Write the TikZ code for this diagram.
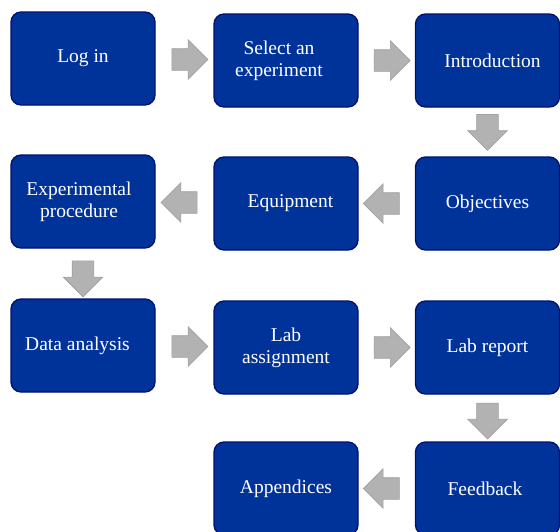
\documentclass[tikz,border=0pt]{standalone}
\usepackage{fontspec}
\setmainfont{Liberation Serif}
\usetikzlibrary{shapes.arrows,calc}
\definecolor{boxfill}{RGB}{0,51,153}
\definecolor{boxline}{RGB}{0,16,112}
\definecolor{arrowfill}{RGB}{178,178,178}
\definecolor{arrowline}{RGB}{160,160,160}
% invisible horizontal padding used to nudge a label inside its box
\newcommand\padx[1]{\rule{#1}{0pt}}
\tikzset{
  stepbox/.style={draw=boxline, line width=1.3pt, fill=boxfill, rounded corners=10pt,
    minimum width=144pt, minimum height=93pt, inner sep=2pt, align=center,
    text=white, font=\fontsize{19.5}{22}\selectfont},
  flow/.style={single arrow, draw=arrowline, line width=0.6pt, fill=arrowfill,
    minimum height=36pt, inner xsep=0pt, inner ysep=10.5pt,
    single arrow head extend=9pt, anchor=center}
}
\begin{document}
\begin{tikzpicture}[x=1pt,y=-1pt]
\useasboundingbox (0,0) rectangle (560,531);
\clip (0,0) rectangle (560,531);
% row 1
\node[stepbox] (login)  at (83,58.5)   {Log in};
\node[stepbox] (select) at (286,60.5)  {Select an\padx{14pt}\\experiment\padx{14pt}};
\node[stepbox] (intro)  at (487.5,60.5){\padx{10pt}Introduction};
% row 2
\node[stepbox] (proc)   at (83,201.5)  {Experimental\padx{8pt}\\procedure\padx{8pt}};
\node[stepbox] (equip)  at (286,203.5) {\padx{9pt}Equipment};
\node[stepbox] (obj)    at (487.5,203.5){Objectives};
% row 3
\node[stepbox] (data)   at (83,345.5)  {Data analysis\padx{11pt}};
\node[stepbox] (assign) at (286,347.5) {Lab\\assignment};
\node[stepbox] (report) at (487.5,347.5){Lab report};
% row 4
\node[stepbox] (append) at (286,488.5) {Appendices};
\node[stepbox] (feed)   at (487.5,488.5){Feedback\padx{5pt}};
% block arrows between the steps
\node[flow] (a1) at ($(login.east)!0.5!(select.west)$) {};
\node[flow] (a2) at ($(select.east)!0.5!(intro.west)$) {};
\node[flow, rotate=-90] (a3) at ($(intro.south)!0.4!(obj.north)$) {};
\node[flow, rotate=180] (a4) at ($(obj.west)!0.5!(equip.east)$) {};
\node[flow, rotate=180] (a5) at ($(equip.west)!0.5!(proc.east)$) {};
\node[flow, rotate=-90] (a6) at ($(proc.south)!0.5!(data.north)$) {};
\node[flow] (a7) at ($(data.east)!0.5!(assign.west)$) {};
\node[flow] (a8) at ($(assign.east)!0.5!(report.west)$) {};
\node[flow, rotate=-90] (a9) at ($(report.south)!0.45!(feed.north)$) {};
\node[flow, rotate=180] (a10) at ($(feed.west)!0.5!(append.east)$) {};
\end{tikzpicture}
\end{document}
